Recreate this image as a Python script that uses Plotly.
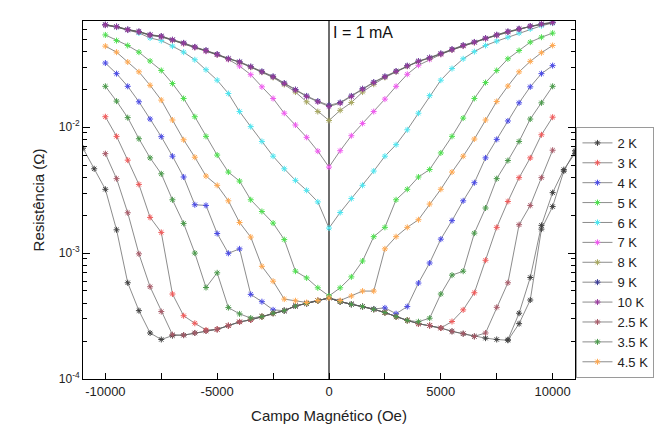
import plotly.graph_objects as go

# Magnetic field grid (Oe)
campo = [-10000, -9500, -9000, -8500, -8000, -7500, -7000, -6500, -6000, -5500,
         -5000, -4500, -4000, -3500, -3000, -2500, -2000, -1500, -1000, -500,
         0, 500, 1000, 1500, 2000, 2500, 3000, 3500, 4000, 4500,
         5000, 5500, 6000, 6500, 7000, 7500, 8000, 8500, 9000, 9500, 10000]

campo_2K = [-11000, -10500] + campo + [10500, 11000]
campo_2K_volta = [11000, 10500, 10000, 9500, 9000, 8500, 8000]

# Tick labels
x_ticks = [-10000, -5000, 0, 5000, 10000]
x_tick_labels = ["-10000", "-5000", "0", "5000", "10000"]
x_minor_ticks = [-7500, -2500, 2500, 7500]
y_ticks = [1e-4, 1e-3, 1e-2]
y_tick_labels = ["10<sup>-4</sup>", "10<sup>-3</sup>", "10<sup>-2</sup>"]
y_minor_ticks = [2e-4, 3e-4, 4e-4, 5e-4, 6e-4, 7e-4, 8e-4, 9e-4,
                 2e-3, 3e-3, 4e-3, 5e-3, 6e-3, 7e-3, 8e-3, 9e-3,
                 2e-2, 3e-2, 4e-2, 5e-2, 6e-2]

# Resistance (Ohm)
r_2K = [0.0068, 0.00467, 0.00321, 0.00153, 0.000581, 0.000349, 0.000232, 0.000206, 0.000221, 0.000223,
        0.000232, 0.000241, 0.000248, 0.000265, 0.000284, 0.000295, 0.000313, 0.000333, 0.000349, 0.00038,
        0.000398, 0.000418, 0.00044, 0.000411, 0.000392, 0.000376, 0.000358, 0.000337, 0.000313, 0.000292,
        0.000275, 0.000266, 0.000254, 0.000239, 0.000229, 0.000218, 0.000211, 0.000206, 0.000203, 0.000275,
        0.000424, 0.00155, 0.00234, 0.00448, 0.0065]
r_2K_volta = [0.0062, 0.0046, 0.00302, 0.00166, 0.00064, 0.000333, 0.000205]

r_3K = [0.0121, 0.00845, 0.00547, 0.00351, 0.00192, 0.00146, 0.000473, 0.000318, 0.000277, 0.000245,
        0.000248, 0.000265, 0.000284, 0.000295, 0.000313, 0.000333, 0.000349, 0.00038, 0.000398, 0.000418,
        0.00044, 0.000411, 0.000392, 0.000376, 0.000358, 0.000337, 0.000313, 0.000292, 0.000275, 0.000266,
        0.000254, 0.000286, 0.000354, 0.000484, 0.000877, 0.0016, 0.00257, 0.00397, 0.0057, 0.0087, 0.012]

r_4K = [0.0323, 0.0266, 0.0211, 0.0159, 0.0116, 0.0084, 0.00588, 0.00402, 0.00242, 0.00239,
        0.00143, 0.000996, 0.00108, 0.00047, 0.000411, 0.000354, 0.000349, 0.00038, 0.000398, 0.000418,
        0.00044, 0.000411, 0.000392, 0.000376, 0.00036, 0.000367, 0.00033, 0.000376, 0.000578, 0.000834,
        0.00129, 0.00181, 0.0026, 0.00362, 0.0057, 0.008, 0.0112, 0.0156, 0.0209, 0.0266, 0.0308]

r_5K = [0.054, 0.0487, 0.0445, 0.0394, 0.0335, 0.0282, 0.0222, 0.0169, 0.0121, 0.00845,
        0.0060, 0.0044, 0.00373, 0.00265, 0.00214, 0.00173, 0.00128, 0.000718, 0.000635, 0.00053,
        0.000456, 0.00053, 0.000647, 0.000865, 0.00135, 0.0016, 0.00265, 0.00321, 0.00402, 0.00461,
        0.00624, 0.00845, 0.0118, 0.0169, 0.0226, 0.0282, 0.0349, 0.0406, 0.0473, 0.0518, 0.0558]

r_6K = [0.0645, 0.0622, 0.059, 0.056, 0.0511, 0.0487, 0.044, 0.0394, 0.0343, 0.0286,
        0.0236, 0.0185, 0.0133, 0.0101, 0.0077, 0.00588, 0.00467, 0.00378, 0.00315, 0.00255,
        0.00158, 0.0021, 0.00271, 0.00345, 0.00448, 0.00588, 0.00726, 0.00953, 0.0129, 0.0178,
        0.0236, 0.0292, 0.0349, 0.0398, 0.0445, 0.0482, 0.0518, 0.0559, 0.0603, 0.0639, 0.067]

r_7K = [0.0645, 0.0625, 0.059, 0.057, 0.0535, 0.052, 0.049, 0.046, 0.043, 0.040,
        0.0375, 0.0345, 0.0306, 0.0261, 0.0209, 0.0169, 0.0129, 0.0104, 0.0083, 0.00645,
        0.00482, 0.0065, 0.00855, 0.0107, 0.0133, 0.0167, 0.0211, 0.0263, 0.031, 0.0345,
        0.0378, 0.041, 0.044, 0.047, 0.0503, 0.0535, 0.0568, 0.0598, 0.063, 0.0655, 0.0675]

r_8K = [0.0648, 0.0626, 0.0593, 0.0571, 0.0538, 0.0524, 0.049, 0.0462, 0.043, 0.0404,
        0.0376, 0.0347, 0.0327, 0.0299, 0.0273, 0.0248, 0.0218, 0.019, 0.0159, 0.0133,
        0.0113, 0.0136, 0.0157, 0.019, 0.0219, 0.0248, 0.0275, 0.0304, 0.0331, 0.0353,
        0.038, 0.0411, 0.0442, 0.047, 0.0505, 0.0537, 0.057, 0.06, 0.063, 0.0656, 0.0676]

r_9K = [0.0652, 0.063, 0.0597, 0.0575, 0.0542, 0.0529, 0.0495, 0.0467, 0.0434, 0.0408,
        0.038, 0.0351, 0.0331, 0.0303, 0.0277, 0.0253, 0.0224, 0.0199, 0.0177, 0.0161,
        0.0149, 0.0157, 0.0177, 0.0202, 0.0228, 0.0253, 0.0279, 0.0308, 0.0335, 0.0357,
        0.0385, 0.0416, 0.0447, 0.0475, 0.051, 0.0542, 0.0575, 0.0605, 0.0635, 0.0661, 0.0681]

r_10K = [0.065, 0.0628, 0.0595, 0.0573, 0.054, 0.0527, 0.0493, 0.0465, 0.0432, 0.0406,
         0.0378, 0.0349, 0.0329, 0.0301, 0.0275, 0.0251, 0.0222, 0.0197, 0.0175, 0.0159,
         0.0146, 0.0155, 0.0175, 0.020, 0.0226, 0.0251, 0.0277, 0.0306, 0.0333, 0.0355,
         0.0383, 0.0414, 0.0445, 0.0473, 0.0508, 0.054, 0.0573, 0.0603, 0.0633, 0.0659, 0.0679]

r_2p5K = [0.00616, 0.0039, 0.00209, 0.000986, 0.00054, 0.000343, 0.000225, 0.000223, 0.000232, 0.000241,
          0.000248, 0.000265, 0.000284, 0.000295, 0.000313, 0.000333, 0.000349, 0.00038, 0.000398, 0.000418,
          0.00044, 0.000411, 0.000392, 0.000376, 0.000358, 0.000337, 0.000313, 0.000292, 0.000275, 0.000266,
          0.000254, 0.000239, 0.000229, 0.000218, 0.000232, 0.000371, 0.000581, 0.00168, 0.00239, 0.00397, 0.00656]

r_3p5K = [0.0211, 0.0161, 0.0119, 0.00809, 0.0057, 0.00426, 0.00265, 0.00172, 0.0010, 0.000533,
          0.000697, 0.000369, 0.000329, 0.000305, 0.000313, 0.000333, 0.000349, 0.00038, 0.000398, 0.000418,
          0.00044, 0.000411, 0.000392, 0.000376, 0.000358, 0.000337, 0.000313, 0.000292, 0.000285, 0.000304,
          0.000473, 0.000668, 0.000718, 0.00144, 0.00228, 0.0039, 0.00543, 0.0077, 0.0116, 0.0156, 0.0211]

r_4p5K = [0.044, 0.0394, 0.0329, 0.0275, 0.0215, 0.0164, 0.0114, 0.00794, 0.00577, 0.00409,
          0.00345, 0.0026, 0.00175, 0.00134, 0.000785, 0.000598, 0.000431, 0.000418, 0.000405, 0.00042,
          0.00044, 0.00042, 0.000456, 0.000499, 0.000499, 0.00108, 0.00135, 0.0016, 0.00184, 0.00245,
          0.00321, 0.0044, 0.00588, 0.00805, 0.0114, 0.016, 0.0212, 0.0275, 0.0333, 0.039, 0.0445]

series_names = ["2 K", "3 K", "4 K", "5 K", "6 K", "7 K", "8 K", "9 K", "10 K", "2.5 K", "3.5 K", "4.5 K"]
series_values = [r_2K, r_3K, r_4K, r_5K, r_6K, r_7K, r_8K, r_9K, r_10K, r_2p5K, r_3p5K, r_4p5K]
series_colors = ["#404040", "#f05a5a", "#4a4ae6", "#4ee04e", "#4ee6f0", "#f05af0",
                 "#a8a860", "#3a3a96", "#9a3a9e", "#a85a68", "#4a9a4a", "#ffa850"]

LINE_COLOR = "#5a5a5a"

fig = go.Figure()
for name, vals, col in zip(series_names, series_values, series_colors):
    xs = campo_2K if name == "2 K" else campo
    mk = dict(symbol="asterisk-open", size=5, color=col, line=dict(color=col, width=1))
    fig.add_trace(go.Scatter(
        x=xs, y=vals, name=name, mode="lines+markers", legendgroup=name,
        line=dict(color=LINE_COLOR, width=0.7), marker=mk,
    ))
    if name == "2 K":
        fig.add_trace(go.Scatter(
            x=campo_2K_volta, y=r_2K_volta, name=name, mode="lines+markers",
            legendgroup=name, showlegend=False,
            line=dict(color=LINE_COLOR, width=0.7), marker=mk,
        ))

fig.add_shape(type="line", xref="x", yref="paper", x0=0, x1=0, y0=0, y1=1,
              line=dict(color="#6e6e6e", width=2), layer="below")

fig.add_annotation(x=0, y=0.967, xref="x", yref="paper", text="I = 1 mA",
                   showarrow=False, xanchor="left", yanchor="middle", xshift=2,
                   font=dict(size=16, color="#111"))

FONT = "Liberation Sans, Arial, sans-serif"
fig.update_layout(
    width=662, height=425,
    margin=dict(l=75, r=95, t=12, b=52),
    paper_bgcolor="white", plot_bgcolor="white",
    font=dict(family=FONT, size=13, color="#222"),
    showlegend=True,
    legend=dict(x=1.003, y=0.003, xanchor="left", yanchor="bottom",
                bordercolor="#9a9a9a", borderwidth=1, bgcolor="white",
                font=dict(size=13, color="#222"), tracegroupgap=0),
    xaxis=dict(
        range=[-11000, 11000], tickmode="array", tickvals=x_ticks, ticktext=x_tick_labels,
        ticks="inside", ticklen=6, tickcolor="#000", showline=True,
        linecolor="#000", linewidth=1, mirror=True, showgrid=False, zeroline=False,
        minor=dict(tickmode="array", tickvals=x_minor_ticks, ticks="inside", ticklen=6,
                   tickcolor="#000", showgrid=False),
        title=dict(text="Campo Magnético (Oe)", font=dict(size=15, color="#222"), standoff=12),
        tickfont=dict(size=13, color="#222"),
    ),
    yaxis=dict(
        type="log", range=[-4, -1.157], tickmode="array", tickvals=y_ticks, ticktext=y_tick_labels,
        ticks="inside", ticklen=7, tickcolor="#000", showline=True,
        linecolor="#000", linewidth=1, mirror="ticks", showgrid=False, zeroline=False,
        minor=dict(tickmode="array", tickvals=y_minor_ticks, ticks="inside", ticklen=4,
                   tickcolor="#000", showgrid=False),
        title=dict(text="Resistência (Ω)", font=dict(size=15, color="#222"), standoff=10),
        tickfont=dict(size=12, color="#222"),
    ),
)

fig.write_html("out.html")
